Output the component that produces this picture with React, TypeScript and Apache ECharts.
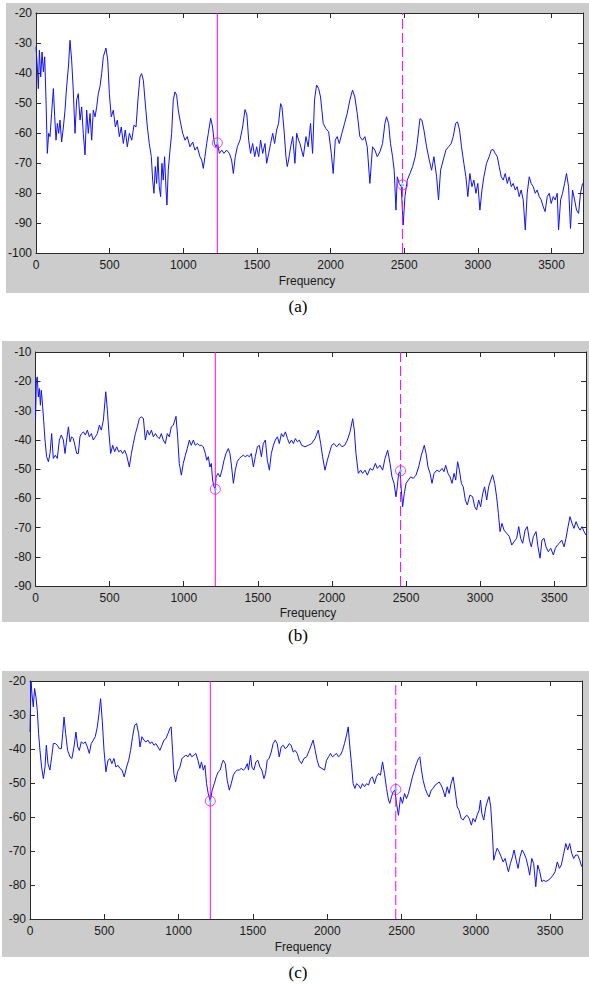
import React, { useEffect, useRef } from "react";
import * as echarts from "echarts";

// ---- data (frequency in Hz, level in dB) ----
const X_MAX = 3714;
const xTicksStep = 500;

const spectrumA: number[][] = [
  [0,-31.3],[9,-38],[16,-45.2],[23,-32.4],[32,-41.3],[41,-33],[50,-39.6],[59,-34.6],[68,-49],[77,-66.8],[86,-60.1],[95,-61.2],[106,-53.5],[118,-45.2],[127,-54.6],[136,-62.4],[145,-56.8],[154,-60.1],[163,-55.7],[174,-63],[186,-58],[197,-52.4],[208,-44.6],[220,-38],[231,-29.1],[242,-35.7],[253,-45.7],[265,-60.1],[276,-49],[287,-46.9],[299,-55.7],[310,-51.3],[321,-60.1],[333,-67.3],[344,-52.4],[355,-60.1],[367,-53.5],[378,-62.4],[389,-52.4],[401,-54.6],[412,-51.3],[423,-46.9],[434,-44.6],[446,-40.2],[457,-34.6],[475,-31.7],[487,-35.7],[498,-46.9],[511,-54.6],[525,-52.4],[539,-58],[552,-55.7],[566,-61.2],[579,-58],[593,-63.5],[606,-59],[620,-64.6],[634,-60.1],[650,-62.4],[665,-57.4],[679,-58],[692,-49],[706,-41.3],[717,-40.2],[729,-42.4],[740,-49],[756,-58],[769,-63.5],[783,-67.9],[792,-75.7],[801,-80.1],[810,-71.2],[819,-76.8],[828,-67.9],[837,-77.9],[846,-81.2],[855,-70.1],[864,-75.7],[873,-67.9],[883,-79],[889,-84],[898,-72.4],[910,-65.7],[921,-60.1],[932,-49],[944,-46.3],[955,-47.4],[966,-52.4],[978,-55.7],[996,-60.1],[1012,-62.4],[1027,-61.2],[1045,-64.6],[1064,-63],[1079,-65.7],[1095,-64.6],[1113,-67.9],[1125,-69],[1136,-71.8],[1147,-67.9],[1159,-63.5],[1170,-60.1],[1186,-55.1],[1199,-58],[1211,-63.5],[1222,-64.6],[1233,-63.5],[1245,-66.8],[1261,-65.7],[1276,-66.8],[1294,-65.7],[1313,-66.8],[1328,-69],[1340,-73.5],[1353,-67.9],[1367,-64.6],[1385,-62.4],[1403,-58],[1419,-52.2],[1432,-54],[1444,-62.4],[1457,-66.8],[1471,-63.5],[1485,-67.9],[1498,-64.6],[1512,-67.9],[1525,-62.4],[1539,-66.8],[1555,-63.5],[1566,-70.1],[1580,-66.8],[1593,-63.5],[1607,-60.1],[1620,-63.5],[1634,-59],[1647,-56.8],[1661,-50.2],[1670,-51.3],[1684,-59],[1697,-67.9],[1706,-71.2],[1715,-69],[1729,-64.6],[1743,-61.2],[1758,-70.1],[1770,-60.1],[1783,-62.4],[1792,-63.5],[1815,-67.9],[1833,-61.2],[1848,-64.6],[1864,-56.8],[1878,-66.8],[1891,-49],[1905,-44],[1919,-45.2],[1932,-48],[1950,-56.8],[1968,-58.5],[1987,-59.6],[2005,-66.8],[2018,-73.5],[2032,-62.4],[2045,-61.2],[2059,-63.5],[2077,-60.1],[2095,-56.8],[2113,-53.5],[2131,-49],[2149,-45.7],[2165,-48],[2181,-53.5],[2199,-61.2],[2217,-62.4],[2233,-61.2],[2249,-64.6],[2267,-76.8],[2285,-64.6],[2301,-65.7],[2317,-67.9],[2335,-66.3],[2353,-63.5],[2369,-56.8],[2380,-54.6],[2394,-56.8],[2407,-63.5],[2421,-67.9],[2432,-72.4],[2444,-85.7],[2453,-74.6],[2466,-76.8],[2480,-77.9],[2493,-90.7],[2505,-81.2],[2521,-75.7],[2539,-73.5],[2557,-71.2],[2575,-67.9],[2588,-63.5],[2607,-55.2],[2620,-55.7],[2634,-59],[2652,-64.6],[2670,-69],[2686,-72.4],[2702,-67.9],[2720,-74.6],[2733,-82.3],[2747,-72.4],[2765,-69],[2783,-65.7],[2801,-64.6],[2819,-63.5],[2833,-61.2],[2849,-56.8],[2862,-56.3],[2876,-59],[2889,-64.6],[2905,-70.1],[2919,-74.6],[2932,-81.2],[2946,-73.5],[2960,-77.9],[2973,-75.7],[2987,-80.1],[3000,-76.8],[3014,-85.7],[3028,-79],[3041,-74.6],[3059,-70.1],[3077,-67.9],[3091,-65.7],[3104,-65.5],[3118,-66.8],[3132,-67.9],[3145,-71.2],[3159,-74.6],[3172,-75.7],[3186,-73.5],[3200,-76.8],[3213,-74.6],[3227,-77.9],[3240,-76.8],[3254,-79],[3267,-77.9],[3281,-81.2],[3294,-79],[3308,-82.3],[3322,-92.3],[3335,-80.1],[3349,-74.6],[3362,-76.8],[3376,-77.9],[3390,-80.1],[3403,-79],[3417,-81.2],[3430,-82.3],[3444,-84.6],[3457,-86.2],[3471,-81.2],[3485,-80.1],[3498,-83.5],[3512,-81.2],[3525,-82.3],[3539,-80.1],[3548,-92.3],[3562,-82.3],[3575,-80.1],[3589,-76.8],[3602,-73.5],[3616,-77.9],[3629,-91.8],[3643,-79],[3657,-82.3],[3670,-85.7],[3684,-86.8],[3697,-80.1],[3711,-76.8]
];

const spectrumB: number[][] = [
  [0,-33.3],[6,-19.7],[12,-18.5],[19,-25.4],[26,-22.5],[33,-28.2],[39,-23.1],[46,-27.1],[55,-33.3],[64,-40.1],[75,-45.8],[87,-47.5],[98,-44.7],[109,-37.9],[120,-46.4],[134,-45.3],[147,-46.4],[161,-40.1],[174,-38.4],[188,-40.1],[199,-44.7],[210,-40.1],[222,-35.6],[233,-40.7],[244,-39],[255,-39.6],[266,-41.9],[278,-44.7],[289,-44.7],[300,-39],[311,-37.9],[323,-37.3],[336,-38.4],[350,-36.7],[363,-39],[377,-37.9],[390,-40.1],[404,-39],[417,-37.9],[431,-35],[444,-36.7],[458,-33.3],[474,-23.6],[485,-29.9],[494,-36.7],[507,-44.7],[521,-41.9],[534,-44.1],[548,-42.4],[561,-44.1],[575,-43.6],[588,-44.7],[602,-43.6],[615,-45.3],[633,-49.3],[647,-44.7],[660,-41.3],[674,-37.9],[687,-35.6],[701,-32.7],[714,-32.2],[728,-32.7],[741,-40.1],[755,-36.7],[768,-38.4],[782,-36.7],[795,-39],[809,-37.9],[822,-39],[836,-39.6],[849,-37.9],[862,-40.1],[876,-41.3],[889,-37.9],[903,-39],[916,-35.6],[930,-35],[948,-32],[959,-39],[970,-48.1],[984,-52.1],[997,-48.1],[1011,-45.3],[1024,-43],[1038,-40.1],[1051,-41.9],[1065,-40.1],[1078,-41.9],[1092,-41.3],[1105,-41.9],[1119,-41.9],[1132,-42.4],[1146,-44.7],[1155,-47],[1166,-45.8],[1177,-49.3],[1186,-48.1],[1195,-53.8],[1204,-56.1],[1213,-56.9],[1218,-52.7],[1231,-51.5],[1245,-52.7],[1258,-50.4],[1272,-47],[1285,-44.7],[1301,-43],[1312,-44.7],[1323,-49.3],[1335,-54.9],[1348,-50.4],[1361,-47.5],[1375,-46.4],[1388,-45.8],[1402,-45.3],[1415,-45.8],[1429,-45.3],[1443,-45.8],[1456,-44.7],[1470,-49.3],[1483,-45.8],[1497,-42.4],[1510,-41.9],[1524,-45.8],[1537,-41.3],[1551,-40.1],[1564,-47],[1578,-50.4],[1591,-44.7],[1605,-41.9],[1618,-40.1],[1632,-39],[1645,-41.3],[1659,-37.9],[1672,-39],[1686,-37.3],[1700,-39.6],[1713,-41.3],[1727,-40.1],[1740,-41.3],[1753,-39.6],[1767,-40.7],[1780,-40.1],[1796,-41.9],[1818,-42.4],[1841,-41.9],[1863,-41.3],[1886,-39.6],[1908,-36.7],[1924,-41.3],[1937,-45.8],[1953,-50.4],[1969,-47],[1982,-44.7],[1998,-41.9],[2014,-41.3],[2032,-42.4],[2050,-41.3],[2068,-42.4],[2086,-41.9],[2104,-40.1],[2122,-37.3],[2140,-32.8],[2151,-36.7],[2162,-44.7],[2178,-51.5],[2194,-50.4],[2207,-51.5],[2223,-50.4],[2239,-52.1],[2257,-49.8],[2275,-50.4],[2293,-48.1],[2306,-49.8],[2324,-48.7],[2342,-50.4],[2358,-46.4],[2376,-43.6],[2392,-48.1],[2405,-52.7],[2419,-54.9],[2432,-59.5],[2441,-56.1],[2450,-51.5],[2459,-50.9],[2468,-57.2],[2477,-62.9],[2488,-58.4],[2500,-54.9],[2515,-53.8],[2531,-52.7],[2549,-53.2],[2567,-52.1],[2585,-49.3],[2603,-45.3],[2623,-41.9],[2635,-44.7],[2648,-49.3],[2662,-51.5],[2675,-54.9],[2689,-51.5],[2707,-50.4],[2725,-50.9],[2743,-49.8],[2756,-50.9],[2767,-48.7],[2783,-51.5],[2797,-52.7],[2810,-54.9],[2824,-51.5],[2835,-53.8],[2848,-47.5],[2860,-50.4],[2873,-54.9],[2886,-56.1],[2900,-60.6],[2913,-62.3],[2931,-58.9],[2949,-59.5],[2963,-62.9],[2976,-64],[2990,-60.6],[3003,-62.9],[3017,-58.4],[3030,-56.1],[3044,-60.6],[3057,-56.1],[3071,-53.8],[3084,-52],[3098,-54.9],[3111,-59.5],[3123,-65.2],[3134,-71.4],[3147,-68.6],[3161,-70.9],[3179,-72],[3197,-73.1],[3213,-76],[3228,-74.9],[3246,-73.7],[3260,-69.7],[3273,-73.7],[3287,-75.4],[3303,-70.9],[3318,-69.7],[3332,-74.3],[3345,-76.6],[3359,-73.1],[3377,-71.4],[3390,-76.6],[3404,-80.5],[3417,-74.3],[3431,-73.7],[3444,-76.6],[3460,-78.3],[3476,-77.1],[3494,-79.4],[3507,-77.1],[3521,-76],[3534,-75.4],[3550,-74.3],[3566,-76.6],[3579,-73.7],[3593,-69.7],[3606,-66.3],[3620,-68.6],[3633,-70.3],[3647,-68],[3660,-69.7],[3674,-70.9],[3687,-69.7],[3701,-71.4],[3714,-72.6]
];

const spectrumC: number[][] = [
  [0,-35],[7,-20],[13,-23.7],[22,-27.6],[31,-22.2],[40,-24.7],[49,-28.6],[58,-35.5],[67,-40.4],[78,-45.3],[90,-48.7],[101,-45.3],[110,-38.9],[121,-44.3],[134,-46.2],[146,-42.3],[157,-38.4],[170,-38.4],[184,-38.9],[197,-39.9],[211,-39.9],[220,-35.5],[229,-30.6],[240,-35.5],[253,-40.4],[269,-42.3],[282,-42.8],[296,-39.4],[309,-35],[321,-39.4],[332,-40.4],[345,-37.9],[359,-38.4],[372,-37.9],[386,-39.4],[399,-41.3],[412,-38.4],[426,-37.4],[439,-36.4],[453,-33.5],[464,-29.6],[475,-25.2],[486,-31.5],[498,-40.4],[511,-46.7],[525,-43.3],[538,-42.8],[551,-44.3],[565,-42.8],[578,-45.3],[592,-44.8],[605,-45.7],[619,-46.2],[634,-48.2],[650,-45.3],[664,-43.3],[677,-40.4],[690,-36.4],[704,-33],[717,-32.5],[731,-35.5],[740,-39.4],[753,-36.4],[767,-37.4],[780,-37.9],[794,-37.4],[807,-38.4],[820,-37.9],[834,-38.9],[847,-38.4],[861,-39.4],[874,-40.4],[888,-38.9],[901,-37.4],[915,-36.9],[928,-35.5],[941,-34],[950,-33.5],[959,-40.4],[968,-47.2],[980,-49.7],[993,-46.7],[1009,-45.3],[1022,-42.8],[1036,-42.3],[1049,-41.8],[1063,-42.3],[1076,-41.3],[1089,-42.3],[1103,-41.8],[1116,-41.3],[1130,-43.3],[1143,-45.7],[1154,-43.8],[1166,-46.2],[1177,-44.8],[1188,-50.2],[1199,-53.1],[1213,-55.3],[1226,-52.1],[1240,-50.2],[1253,-48.2],[1267,-46.7],[1280,-46.2],[1291,-44.3],[1300,-43.3],[1314,-44.3],[1327,-49.2],[1341,-52.1],[1354,-50.2],[1368,-47.7],[1381,-46.7],[1394,-46.2],[1408,-46.2],[1421,-45.7],[1435,-46.2],[1448,-45.7],[1462,-44.3],[1470,-46.2],[1484,-41.8],[1493,-45.3],[1506,-46.2],[1520,-43.8],[1533,-43.3],[1547,-45.3],[1560,-46.2],[1574,-48.7],[1585,-47.2],[1596,-43.3],[1609,-42.8],[1623,-40.9],[1636,-38.4],[1650,-37.4],[1663,-38.4],[1677,-42.3],[1690,-39.4],[1704,-38.9],[1717,-39.9],[1731,-39.4],[1744,-38.4],[1757,-38.9],[1771,-40.9],[1784,-40.4],[1798,-41.3],[1811,-43.3],[1827,-44.3],[1843,-42.8],[1861,-42.3],[1879,-40.4],[1892,-38.9],[1905,-37.4],[1919,-40.4],[1932,-43.3],[1946,-45.3],[1964,-45.7],[1982,-46.2],[1995,-43.3],[2009,-42.3],[2022,-41.3],[2035,-42.3],[2049,-41.8],[2062,-41.3],[2076,-42.3],[2089,-41.8],[2103,-40.4],[2116,-38.4],[2130,-35.9],[2141,-33.5],[2152,-39.4],[2163,-44.3],[2174,-50.2],[2186,-51.6],[2197,-50.2],[2210,-50.6],[2224,-51.6],[2237,-50.2],[2251,-51.1],[2264,-50.2],[2278,-50.6],[2291,-48.7],[2304,-48.2],[2318,-50.2],[2331,-48.2],[2345,-47.2],[2358,-47.7],[2372,-43.8],[2385,-47.2],[2399,-51.6],[2412,-55],[2421,-56],[2432,-54.1],[2443,-52.6],[2455,-52.1],[2466,-56],[2479,-59.5],[2493,-54.1],[2506,-56],[2520,-53.1],[2533,-54.6],[2546,-53.1],[2560,-50.6],[2573,-48.2],[2587,-46.2],[2600,-44.3],[2614,-42.8],[2623,-42.3],[2634,-46.2],[2645,-49.2],[2659,-51.6],[2672,-53.1],[2685,-54.1],[2699,-52.1],[2712,-51.6],[2726,-50.6],[2739,-50.2],[2753,-49.7],[2766,-50.6],[2780,-52.1],[2793,-54.1],[2807,-51.1],[2820,-53.1],[2833,-50.2],[2847,-48.2],[2860,-52.1],[2874,-57],[2887,-58],[2901,-60.4],[2914,-60.9],[2928,-59.9],[2941,-59.5],[2955,-60.4],[2970,-62.4],[2981,-60.4],[2995,-61.4],[3008,-59.5],[3022,-58],[3031,-55],[3040,-59],[3053,-60.9],[3067,-57],[3080,-55],[3089,-54],[3100,-57],[3111,-64.8],[3120,-72.7],[3132,-70.7],[3143,-69.2],[3156,-70.2],[3170,-71.7],[3183,-73.2],[3197,-72.2],[3210,-74.6],[3219,-76.1],[3232,-73.7],[3246,-71.7],[3257,-69.7],[3271,-72.7],[3284,-75.1],[3297,-71.7],[3311,-69.7],[3324,-70.7],[3338,-72.2],[3351,-74.6],[3362,-77.1],[3376,-72.2],[3389,-73.7],[3403,-80.5],[3416,-74.1],[3430,-76.1],[3443,-79],[3457,-78.6],[3470,-79],[3486,-78.6],[3501,-78.1],[3519,-77.1],[3533,-76.1],[3548,-73.2],[3562,-75.1],[3575,-74.1],[3591,-70.7],[3605,-67.8],[3618,-69.7],[3631,-67.8],[3645,-70.7],[3658,-72.2],[3672,-71.2],[3685,-71.2],[3699,-72.7],[3712,-74.6]
];

// cursors: [solid, dashed] frequencies and marked levels
const cursorFreqA = [1231, 2488];
const cursorDbA = [-63.3, -77.3];
const cursorFreqB = [1213, 2463];
const cursorDbB = [-56.9, -50.6];
const cursorFreqC = [1213, 2461];
const cursorDbC = [-55.3, -51.9];

const yRangeA = [-100, -20];
const yRangeB = [-90, -10];
const yRangeC = [-90, -20];

const captions = ["(a)", "(b)", "(c)"];
const xAxisTitle = "Frequency";

const FONT = "'Liberation Sans', Arial, sans-serif";

export default function App() {
  const ref = useRef<HTMLDivElement>(null);
  useEffect(() => {
    if (!ref.current) return;
    const chart = echarts.init(ref.current, undefined, { renderer: "svg" });

    const grids = [
      { left: 36, top: 13, width: 547, height: 240 },
      { left: 35.5, top: 352, width: 550.5, height: 234 },
      { left: 30, top: 681, width: 552, height: 238 },
    ];
    const panels = [
      { data: spectrumA, cf: cursorFreqA, cd: cursorDbA, yr: yRangeA },
      { data: spectrumB, cf: cursorFreqB, cd: cursorDbB, yr: yRangeB },
      { data: spectrumC, cf: cursorFreqC, cd: cursorDbC, yr: yRangeC },
    ];
    const greys = [
      { x: 6, y: 3, w: 583, h: 290 },
      { x: 2, y: 341, w: 587, h: 281 },
      { x: 2, y: 671, w: 587, h: 286 },
    ];
    const freqLabelY = [281, 613, 947];
    const freqLabelX = [307, 308, 303];
    const captionY = [306, 635, 972];

    const axisLine = { show: true, onZero: false, lineStyle: { color: "#2a2a2a", width: 1 } };
    const tick = { show: true, inside: true, length: 5, lineStyle: { color: "#2a2a2a", width: 1 } };
    const lbl = { fontSize: 12, color: "#1a1a1a", fontFamily: FONT, formatter: (v: number) => String(v) };

    const xAxis: any[] = [];
    const yAxis: any[] = [];
    const series: any[] = [];
    panels.forEach((p, i) => {
      xAxis.push({
        type: "value", gridIndex: i, min: 0, max: X_MAX, interval: xTicksStep, position: "bottom",
        axisLine, axisTick: tick, splitLine: { show: false },
        axisLabel: { ...lbl, margin: 6, showMaxLabel: false },
      });
      xAxis.push({
        type: "value", gridIndex: i, min: 0, max: X_MAX, interval: xTicksStep, position: "top",
        axisLine, axisTick: tick, splitLine: { show: false }, axisLabel: { show: false },
      });
      yAxis.push({
        type: "value", gridIndex: i, min: p.yr[0], max: p.yr[1], interval: 10, position: "left",
        axisLine, axisTick: tick, splitLine: { show: false },
        axisLabel: { ...lbl, margin: 4 },
      });
      yAxis.push({
        type: "value", gridIndex: i, min: p.yr[0], max: p.yr[1], interval: 10, position: "right",
        axisLine, axisTick: tick, splitLine: { show: false }, axisLabel: { show: false },
      });
      const xi = i * 2, yi = i * 2;
      series.push({
        type: "line", xAxisIndex: xi, yAxisIndex: yi, data: p.data, showSymbol: false,
        lineStyle: { color: "#1010ff", width: 1 }, silent: true, z: 2,
      });
      p.cf.forEach((f, k) => {
        series.push({
          type: "line", xAxisIndex: xi, yAxisIndex: yi, showSymbol: false, silent: true, z: 3,
          data: [[f, p.yr[0]], [f, p.yr[1]]],
          lineStyle: { color: "#ff00ff", width: 1, type: k === 0 ? "solid" : [10, 4] },
        });
      });
      series.push({
        type: "scatter", xAxisIndex: xi, yAxisIndex: yi, silent: true, z: 4,
        data: p.cf.map((f, k) => [f, p.cd[k]]), symbol: "circle", symbolSize: 10,
        itemStyle: { color: "rgba(0,0,0,0)", borderColor: "#ff00ff", borderWidth: 1 },
      });
      series.push({
        type: "scatter", xAxisIndex: xi, yAxisIndex: yi, silent: true, z: 5,
        data: p.cf.map((f, k) => [f, p.cd[k]]), symbol: "circle", symbolSize: 3,
        itemStyle: { color: "#00ffff" },
      });
    });

    const graphic: any[] = [];
    greys.forEach((g) => {
      graphic.push({ type: "rect", z: -10, shape: { x: g.x, y: g.y, width: g.w, height: g.h }, style: { fill: "#cccccc" }, silent: true });
    });
    grids.forEach((g) => {
      graphic.push({ type: "rect", z: -5, shape: { x: g.left, y: g.top, width: g.width, height: g.height }, style: { fill: "#ffffff" }, silent: true });
    });
    captions.forEach((c, i) => {
      graphic.push({
        type: "text", x: freqLabelX[i], y: freqLabelY[i],
        style: { text: xAxisTitle, fontSize: 12, fontFamily: FONT, fill: "#1a1a1a", textAlign: "center", textVerticalAlign: "middle" },
      });
      graphic.push({
        type: "text", x: 298, y: captionY[i],
        style: { text: c, fontSize: 17, fontFamily: "'Liberation Serif', 'Times New Roman', serif", fill: "#000", textAlign: "center", textVerticalAlign: "middle" },
      });
    });

    chart.setOption({
      animation: false,
      backgroundColor: "#ffffff",
      grid: grids.map((g) => ({ ...g, containLabel: false })),
      xAxis, yAxis, series, graphic,
    });
    return () => chart.dispose();
  }, []);
  return <div ref={ref} style={{ position: "absolute", left: 0, top: 0, width: 589, height: 987 }} />;
}
